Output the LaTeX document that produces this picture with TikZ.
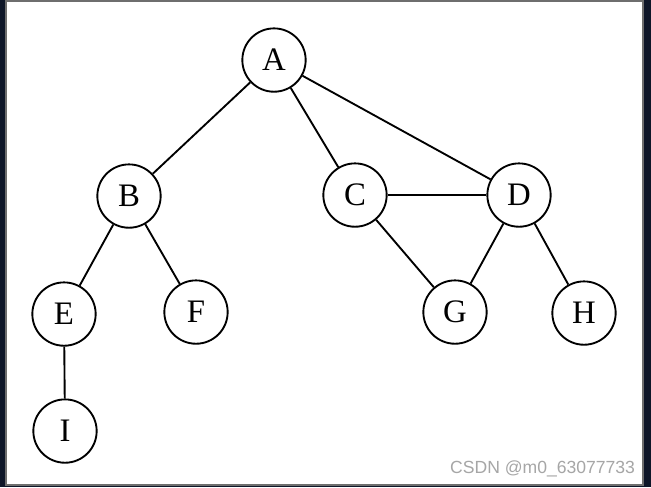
\documentclass[tikz,border=0pt]{standalone}
\usepackage{fontspec}
\setmainfont{Liberation Serif}
\newfontfamily\marksans{Liberation Sans}
\definecolor{edgenavy}{RGB}{14,22,40}
\definecolor{framegray}{RGB}{110,110,110}
\begin{document}
\begin{tikzpicture}[x=0.03cm,y=-0.03cm,
				every node/.style={circle,draw,line width=1.6pt,minimum size=1.9cm,inner sep=0pt,font=\fontsize{28}{30}\selectfont},
				every path/.style={line width=1.6pt}]
% frame
\fill[edgenavy] (0,0) rectangle (651,487);
\filldraw[fill=white,draw=framegray,line width=1.8pt] (6,1) rectangle (643,485);
% vertices
\node (A) at (274,60) {A};
\node (B) at (129,196) {B};
\node (C) at (355,195) {C};
\node (D) at (519,195) {D};
\node (E) at (64,314) {E};
\node (F) at (196,312) {F};
\node (G) at (455,312) {G};
\node (H) at (584,313) {H};
\node (I) at (65,431) {I};
% edges
\draw (A) -- (B);
\draw (A) -- (C);
\draw (A) -- (D);
\draw (B) -- (E);
\draw (B) -- (F);
\draw (C) -- (D);
\draw (C) -- (G);
\draw (D) -- (G);
\draw (D) -- (H);
\draw (E) -- (I);
\node[draw=none,rectangle,minimum size=0pt,anchor=east,text=gray!70,font=\marksans\fontsize{15}{17}\selectfont] (mark) at (636,469) {CSDN @m0\_63077733};
\end{tikzpicture}
\end{document}
